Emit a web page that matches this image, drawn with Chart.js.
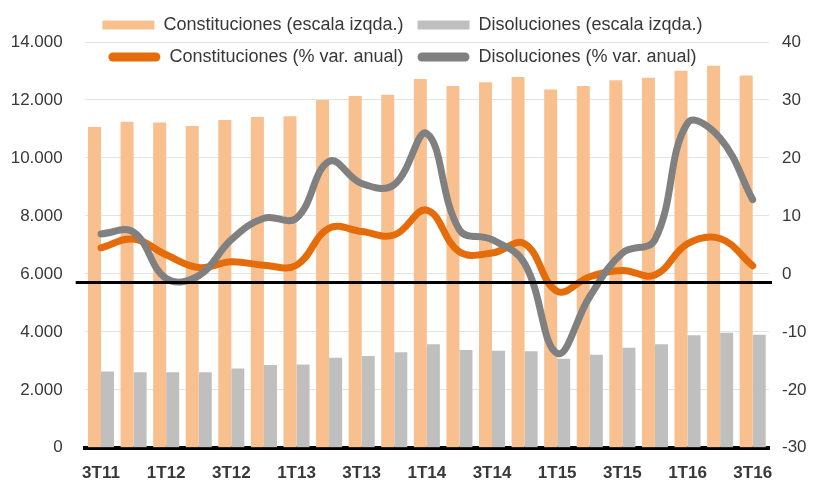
<!DOCTYPE html>
<html>
<head>
<meta charset="utf-8">
<script src="https://cdn.jsdelivr.net/npm/chart.js@4.4.1/dist/chart.umd.min.js"></script>
<style>
  html, body { margin: 0; padding: 0; background: #ffffff; }
  #wrap { width: 815px; height: 480px; position: relative; }
</style>
</head>
<body>
<div id="wrap"><canvas id="c"></canvas></div>
<script>
// ---- data ----
const categories = ['3T11','4T11','1T12','2T12','3T12','4T12','1T13','2T13','3T13','4T13','1T14','2T14','3T14','4T14','1T15','2T15','3T15','4T15','1T16','2T16','3T16'];
const xTickLabels = ['3T11','','1T12','','3T12','','1T13','','3T13','','1T14','','3T14','','1T15','','3T15','','1T16','','3T16'];
const constitucionesCount = [11070, 11250, 11220, 11100, 11310, 11410, 11440, 12000, 12140, 12180, 12720, 12480, 12610, 12790, 12360, 12480, 12680, 12770, 13010, 13180, 12840];
const disolucionesCount = [2630, 2610, 2610, 2610, 2740, 2860, 2870, 3110, 3170, 3300, 3570, 3370, 3350, 3330, 3070, 3210, 3450, 3570, 3880, 3970, 3900];
const constitucionesVar = [4.5, 6.0, 3.3, 1.1, 2.1, 1.5, 1.5, 7.9, 7.3, 6.7, 11.0, 3.8, 3.6, 5.2, -3.0, -0.5, 0.6, -0.2, 5.2, 6.1, 1.4];
const disolucionesVar = [6.9, 7.2, -0.8, -0.3, 5.9, 9.6, 9.6, 19.4, 15.6, 15.4, 24.2, 7.6, 5.9, 1.8, -13.7, -3.9, 3.6, 5.9, 26.0, 23.4, 12.8];
const leftTickLabels = ['0','2.000','4.000','6.000','8.000','10.000','12.000','14.000'];
const rightTickLabels = ['-30','-20','-10','0','10','20','30','40'];
const seriesNames = ['Constituciones (escala izqda.)','Disoluciones (escala izqda.)','Constituciones (% var. anual)','Disoluciones (% var. anual)'];
const refLineValue = 5700; // black horizontal line, left-axis units

const FONT = "'Liberation Sans', Arial, sans-serif";
const TEXT = '#383838';

const refLinePlugin = {
  id: 'refLine',
  afterDatasetsDraw(chart) {
    const ctx = chart.ctx;
    const ys = chart.scales.y;
    const y = ys.getPixelForValue(refLineValue);
    ctx.save();
    ctx.strokeStyle = '#000000';
    ctx.lineWidth = 3;
    ctx.beginPath();
    ctx.moveTo(chart.chartArea.left - 9, y);
    ctx.lineTo(chart.chartArea.right + 3, y);
    ctx.stroke();
    ctx.restore();
  }
};

const chart = new Chart(document.getElementById('c'), {
  type: 'bar',
  data: {
    labels: categories,
    datasets: [
      { type: 'bar', label: seriesNames[0], data: constitucionesCount, backgroundColor: '#F9C08F', yAxisID: 'y', order: 2, barPercentage: 1.0, categoryPercentage: 0.8 },
      { type: 'bar', label: seriesNames[1], data: disolucionesCount, backgroundColor: '#BFBFBF', yAxisID: 'y', order: 2, barPercentage: 1.0, categoryPercentage: 0.8 },
      { type: 'line', label: seriesNames[2], data: constitucionesVar, borderColor: '#E46C0A', backgroundColor: '#E46C0A', borderWidth: 7, pointRadius: 0, tension: 0.4, borderCapStyle: 'round', borderJoinStyle: 'round', yAxisID: 'y2', order: 1 },
      { type: 'line', label: seriesNames[3], data: disolucionesVar, borderColor: '#808080', backgroundColor: '#808080', borderWidth: 7, pointRadius: 0, tension: 0.4, borderCapStyle: 'round', borderJoinStyle: 'round', yAxisID: 'y2', order: 0 }
    ]
  },
  options: {
    responsive: true,
    maintainAspectRatio: false,
    animation: false,
    layout: { padding: { left: 11, right: 4, top: 2, bottom: 0 } },
    plugins: {
      tooltip: { enabled: false },
      legend: {
        position: 'top',
        labels: {
          font: { family: FONT, size: 18 },
          color: TEXT,
          boxWidth: 52,
          boxHeight: 9,
          padding: 14,
          generateLabels: (ch) => ch.data.datasets.map((ds, i) => ({
            text: ds.label,
            fillStyle: ds.type === 'line' ? ds.borderColor : ds.backgroundColor,
            strokeStyle: 'rgba(0,0,0,0)',
            lineWidth: 0,
            borderRadius: ds.type === 'line' ? 4.5 : 0,
            hidden: !ch.isDatasetVisible(i),
            datasetIndex: i,
            fontColor: TEXT
          }))
        }
      }
    },
    scales: {
      x: {
        grid: { display: false, drawTicks: false },
        border: { display: true, color: '#000000', width: 4 },
        afterFit: (s) => { s.height = 32; },
        ticks: {
          autoSkip: false, maxRotation: 0, padding: 15,
          color: TEXT,
          font: { family: FONT, size: 17, weight: 'bold' },
          callback: (v, i) => xTickLabels[i]
        }
      },
      y: {
        position: 'left',
        min: 0, max: 14000,
        grid: { color: '#E3E3E3', lineWidth: 1, drawTicks: false },
        border: { display: false },
        afterFit: (s) => { s.width = 73.7; },
        ticks: {
          stepSize: 2000, padding: 22, color: TEXT,
          font: { family: FONT, size: 17 },
          callback: (v) => leftTickLabels[Math.round(v / 2000)]
        }
      },
      y2: {
        position: 'right',
        min: -30, max: 40,
        grid: { display: false, drawTicks: false },
        border: { display: false },
        afterFit: (s) => { s.width = 42; },
        ticks: {
          stepSize: 10, padding: 13, color: TEXT,
          font: { family: FONT, size: 17 },
          callback: (v) => rightTickLabels[Math.round((v + 30) / 10)]
        }
      }
    }
  },
  plugins: [refLinePlugin]
});

// Let the two-row legend overlap the top of the plot, as in the reference.
const lg = chart.legend;
const origFit = lg.fit.bind(lg);
lg.fit = function () {
  origFit();
  this.height = 40;
  if (this.lineWidths) this.lineWidths = this.lineWidths.map(w => w + 17);
};
lg.draw = function () {
  if (this.options.display) this._draw();
};
chart.update('none');
</script>
</body>
</html>
